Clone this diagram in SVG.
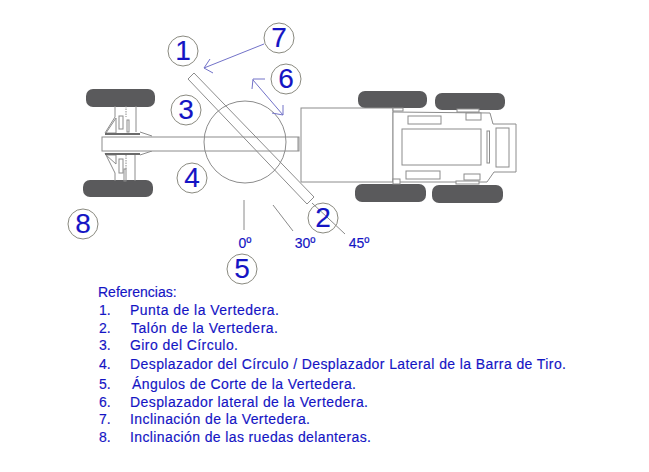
<svg xmlns="http://www.w3.org/2000/svg" width="649" height="472" viewBox="0 0 649 472">
<style>
text{font-family:"Liberation Sans",Arial,sans-serif;fill:#1414c4;stroke:#1414c4;stroke-width:.15}
.c circle{fill:#fff;stroke:#8a8a80;stroke-width:1}
.c text{font-size:28px;text-anchor:middle}
.s{fill:#fff;stroke:#8c8c8c;stroke-width:1}
.n{fill:none;stroke:#8c8c8c;stroke-width:1}
.w{fill:#5a5a5c}
.d{fill:#6a6a6a}
.a{fill:none;stroke:#7272c8;stroke-width:1}
.l{font-size:14px}
.g{font-size:14px;text-anchor:middle}
.t{stroke:#8a8a8a;stroke-width:1}
</style>
<rect width="649" height="472" fill="#fff"/>
<g id="front-axle">
<rect class="w" x="86" y="89" width="69" height="18" rx="7"/>
<rect class="w" x="83" y="180" width="70" height="17" rx="7"/>
<path class="n" d="M115 106V117L105 133M136 106V132M140 132L152 136M115 181V173L105 153M135 181V155M140 155L152 151"/>
<path class="n" d="M116 118V133H106ZM106 155H116V164Z"/>
<rect class="n" x="119" y="116" width="4" height="13"/>
<rect class="n" x="127" y="120" width="2" height="12"/>
<rect class="n" x="119" y="159" width="4" height="14"/>
<rect class="n" x="124" y="169" width="2" height="12"/>
<path class="n" stroke-dasharray="1.5 1" d="M126 106V117M126 155V169"/>
<rect class="d" x="105" y="133" width="35" height="2"/>
<rect class="d" x="105" y="153" width="35" height="2"/>
</g>
<g id="drawbar">
<rect class="s" x="102" y="137" width="197" height="14"/>
<path class="n" d="M298 137V151"/>
</g>
<g id="rear-body">
<rect class="w" x="358" y="91" width="69" height="17" rx="7"/>
<rect class="w" x="435" y="93" width="70" height="17" rx="7"/>
<rect class="w" x="355" y="184" width="71" height="18" rx="7"/>
<rect class="w" x="432" y="185" width="71" height="18" rx="7"/>
<rect class="s" x="301" y="108" width="92" height="74"/>
<path class="s" d="M393 112L490 113L493 124H516V172H494L487 182H393Z"/>
<rect class="s" x="393" y="108" width="10" height="3"/>
<rect class="s" x="393" y="179" width="7" height="5"/>
<rect class="s" x="457" y="109" width="22" height="3"/>
<rect class="s" x="456" y="181" width="23" height="3"/>
<rect class="s" x="408" y="116" width="33" height="8"/>
<rect class="s" x="402" y="129" width="79" height="36"/>
<rect class="s" x="406" y="171" width="34" height="8"/>
<rect class="s" x="466" y="113" width="15" height="7"/>
<rect class="s" x="464" y="174" width="16" height="6"/>
<rect class="s" x="487" y="131" width="2.500" height="32"/>
<rect class="s" x="496" y="128" width="13" height="39"/>
</g>
<g id="circle-blade">
<circle class="n" cx="245" cy="142" r="41"/>
<path class="n" d="M194 73L314 197L307 204L188 79Z"/>
</g>
<g id="connectors">
<path class="a" d="M264 44L204 68M210 59L204 68L213 73"/>
<path class="a" d="M253 80L283 115M265 79H253L252 89M283 105V115L272 113"/>
<path class="t" d="M244 200V230M273 205L293 231M312 203L345 234"/>
</g>
<g id="n1" class="c"><circle cx="183" cy="51" r="15"/><text x="183" y="60">1</text></g>
<g id="n7" class="c"><circle cx="279" cy="38" r="15"/><text x="279" y="47">7</text></g>
<g id="n6" class="c"><circle cx="286" cy="79" r="15"/><text x="286" y="88">6</text></g>
<g id="n3" class="c"><circle cx="186" cy="110" r="15"/><text x="186" y="119">3</text></g>
<g id="n4" class="c"><circle cx="192" cy="178" r="15"/><text x="192" y="187">4</text></g>
<g id="n8" class="c"><circle cx="83" cy="224" r="15"/><text x="83" y="233">8</text></g>
<g id="n2" class="c"><circle cx="323" cy="218" r="15" style="fill:none"/><text x="323" y="227">2</text></g>
<g id="n5" class="c"><circle cx="242" cy="269" r="15"/><text x="242" y="278">5</text></g>
<g id="angles">
<text class="g" x="245" y="248">0º</text>
<text class="g" x="305" y="248">30º</text>
<text class="g" x="359" y="248">45º</text>
</g>
<g id="legend">
<text class="l" x="98" y="297">Referencias:</text>
<text class="l" x="99" y="315">1.</text><text class="l" x="130" y="315" textLength="149">Punta de la Vertedera.</text>
<text class="l" x="99" y="333">2.</text><text class="l" x="131" y="333" textLength="147">Talón de la Vertedera.</text>
<text class="l" x="99" y="350">3.</text><text class="l" x="130" y="350" textLength="108">Giro del Círculo.</text>
<text class="l" x="99" y="369">4.</text><text class="l" x="130" y="369" textLength="436">Desplazador del Círculo / Desplazador Lateral de la Barra de Tiro.</text>
<text class="l" x="99" y="389">5.</text><text class="l" x="132" y="389" textLength="224">Ángulos de Corte de la Vertedera.</text>
<text class="l" x="99" y="407">6.</text><text class="l" x="130" y="407" textLength="238">Desplazador lateral de la Vertedera.</text>
<text class="l" x="99" y="424">7.</text><text class="l" x="130" y="424" textLength="180">Inclinación de la Vertedera.</text>
<text class="l" x="99" y="442">8.</text><text class="l" x="130" y="442" textLength="241">Inclinación de las ruedas delanteras.</text>
</g>
</svg>
